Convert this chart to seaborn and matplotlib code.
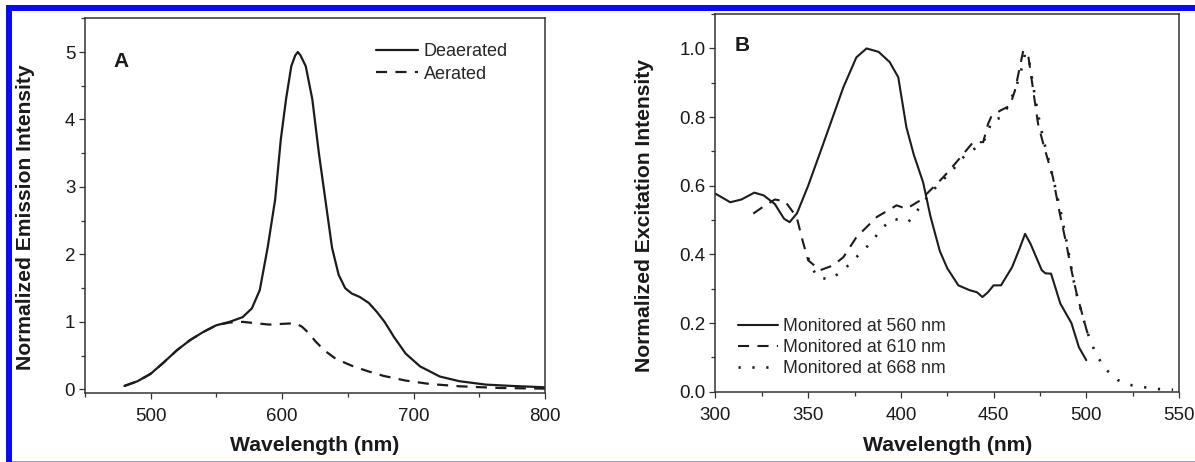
import matplotlib
matplotlib.use("Agg")
import matplotlib.pyplot as plt
from matplotlib.patches import Rectangle
from matplotlib.ticker import MultipleLocator, FormatStrFormatter
import seaborn as sns
import pandas as pd

# ---------------- data: panel A (emission) ----------------
deaerated_nm = [480, 490, 500, 510, 520, 530, 540, 550, 560, 570, 577, 583, 589, 594.7,
                599, 603, 607, 610, 612, 614, 618, 623, 628, 633, 638, 643, 648, 653,
                659, 666, 672, 678, 685, 694, 705, 720, 735, 755, 775, 800]
deaerated_int = [0.05, 0.12, 0.23, 0.40, 0.58, 0.73, 0.85, 0.95, 1.00, 1.07, 1.20, 1.47,
                 2.10, 2.81, 3.70, 4.30, 4.79, 4.95, 5.00, 4.95, 4.79, 4.30, 3.50, 2.80,
                 2.10, 1.70, 1.50, 1.42, 1.37, 1.28, 1.15, 1.00, 0.78, 0.53, 0.34, 0.19,
                 0.12, 0.07, 0.05, 0.03]
aerated_nm = [480, 490, 500, 510, 520, 530, 540, 550, 560, 570, 580, 590, 600, 610, 615,
              620, 625, 632, 641, 653, 665, 677, 694, 712, 735, 765, 800]
aerated_int = [0.05, 0.12, 0.23, 0.40, 0.58, 0.73, 0.85, 0.95, 0.99, 1.00, 0.98, 0.96,
               0.97, 0.98, 0.93, 0.84, 0.72, 0.58, 0.45, 0.35, 0.27, 0.20, 0.13, 0.08,
               0.045, 0.02, 0.01]

# ---------------- data: panel B (excitation) ----------------
mon560_nm = [300, 308, 314, 321, 326, 332, 337, 340, 344, 350, 358, 369, 376, 381.5, 388,
             394, 398.6, 403, 407, 412, 416, 421, 425, 431, 437, 441, 444, 447, 450, 454,
             460, 464, 467, 470, 476, 478, 481, 486, 492, 496, 500]
mon560_int = [0.577, 0.552, 0.560, 0.580, 0.572, 0.547, 0.504, 0.494, 0.520, 0.600, 0.720,
              0.887, 0.974, 1.000, 0.990, 0.960, 0.916, 0.770, 0.690, 0.610, 0.510, 0.410,
              0.360, 0.310, 0.296, 0.290, 0.276, 0.290, 0.310, 0.310, 0.363, 0.417, 0.460,
              0.430, 0.354, 0.345, 0.344, 0.257, 0.200, 0.130, 0.092]
mon610_nm = [320.4, 326, 332, 337.5, 343.8, 347, 350, 356.4, 363.5, 369, 376, 387, 397.7,
             403, 410.3, 415.7, 422.9, 430, 439, 444.4, 447, 449, 454, 458.8, 461.5, 466,
             468.7, 471.4, 474, 476.8, 482, 485, 489.4, 492, 494.8, 500.2, 502]
mon610_int = [0.519, 0.540, 0.560, 0.555, 0.509, 0.440, 0.383, 0.354, 0.368, 0.392, 0.450,
              0.509, 0.543, 0.533, 0.557, 0.586, 0.625, 0.669, 0.727, 0.727, 0.780, 0.804,
              0.820, 0.833, 0.877, 0.993, 0.979, 0.877, 0.780, 0.722, 0.625, 0.538, 0.426,
              0.354, 0.286, 0.179, 0.150]
mon668_nm = [350, 354.6, 361.8, 369, 376, 383.3, 390.5, 395.9, 404, 410.3, 415.7, 421,
             427, 433.7, 442.7, 446, 449, 455, 460, 464, 467, 469, 472, 475, 478, 482, 486,
             490, 494, 498, 502, 505.6, 510, 517, 524.5, 531.7, 538.8, 546.8]
mon668_int = [0.390, 0.334, 0.327, 0.354, 0.392, 0.431, 0.480, 0.504, 0.494, 0.538, 0.577,
              0.608, 0.640, 0.683, 0.720, 0.740, 0.790, 0.800, 0.860, 0.916, 0.985, 0.970,
              0.870, 0.780, 0.710, 0.625, 0.530, 0.420, 0.300, 0.220, 0.150, 0.107, 0.068,
              0.034, 0.019, 0.013, 0.008, 0.006]

df_a1 = pd.DataFrame({"nm": deaerated_nm, "val": deaerated_int})
df_a2 = pd.DataFrame({"nm": aerated_nm, "val": aerated_int})
df_b1 = pd.DataFrame({"nm": mon560_nm, "val": mon560_int})
df_b2 = pd.DataFrame({"nm": mon610_nm, "val": mon610_int})
df_b3 = pd.DataFrame({"nm": mon668_nm, "val": mon668_int})

sns.set_theme(style="ticks")
plt.rcParams["font.family"] = ["Liberation Sans", "DejaVu Sans"]
plt.rcParams["lines.scale_dashes"] = False

LC = "#1c1c1c"
SC = "#333333"
DASH = (0, (8, 6))
DOT = (0, (1.6, 8.4))

fig = plt.figure(figsize=(11.95, 4.62), dpi=100)
axA = fig.add_axes([0.0711, 0.150, 0.3849, 0.8104])
axB = fig.add_axes([0.5987, 0.152, 0.3879, 0.8175])

sns.lineplot(data=df_a1, x="nm", y="val", ax=axA, color=LC, lw=1.6, label="Deaerated",
             sort=False, estimator=None)
sns.lineplot(data=df_a2, x="nm", y="val", ax=axA, color=LC, lw=1.6, linestyle=DASH,
             label="Aerated", sort=False, estimator=None)

sns.lineplot(data=df_b1, x="nm", y="val", ax=axB, color=LC, lw=1.5,
             label="Monitored at 560 nm", sort=False, estimator=None)
sns.lineplot(data=df_b2, x="nm", y="val", ax=axB, color=LC, lw=1.5, linestyle=DASH,
             label="Monitored at 610 nm", sort=False, estimator=None)
sns.lineplot(data=df_b3, x="nm", y="val", ax=axB, color=LC, lw=1.9, linestyle=DOT,
             label="Monitored at 668 nm", sort=False, estimator=None)

# axes limits and ticks
axA.set_xlim(450, 800)
axA.set_ylim(-0.05, 5.5)
axA.xaxis.set_major_locator(MultipleLocator(100))
axA.xaxis.set_minor_locator(MultipleLocator(50))
axA.yaxis.set_major_locator(MultipleLocator(1))
axA.yaxis.set_minor_locator(MultipleLocator(0.5))
axA.yaxis.set_major_formatter(FormatStrFormatter("%d"))

axB.set_xlim(300, 550)
axB.set_ylim(0, 1.1)
axB.xaxis.set_major_locator(MultipleLocator(50))
axB.xaxis.set_minor_locator(MultipleLocator(25))
axB.yaxis.set_major_locator(MultipleLocator(0.2))
axB.yaxis.set_minor_locator(MultipleLocator(0.1))
axB.yaxis.set_major_formatter(FormatStrFormatter("%.1f"))

for ax in (axA, axB):
    for s in ax.spines.values():
        s.set_visible(True)
        s.set_color(SC)
        s.set_linewidth(1.1)
    ax.tick_params(which="major", direction="out", length=4.5, width=0.9, color=SC,
                   labelsize=13.5, labelcolor="#1a1a1a", pad=2.5)
    ax.tick_params(axis="x", which="major", pad=6.5)
    ax.tick_params(which="minor", direction="out", length=3, width=0.9, color=SC)
    ax.tick_params(top=False, right=False, which="both")
    ax.set_xlabel("Wavelength (nm)", fontsize=15.2, fontweight="bold", color="#1a1a1a",
                  va="center")

axA.set_ylabel("Normalized Emission Intensity", fontsize=15.2, fontweight="bold",
               color="#1a1a1a", va="center")
axB.set_ylabel("Normalized Excitation Intensity", fontsize=15.2, fontweight="bold",
               color="#1a1a1a", va="center")
axA.xaxis.set_label_coords(0.5, -0.142)
axB.xaxis.set_label_coords(0.5, -0.142)
axA.yaxis.set_label_coords(-0.13, 0.469)
axB.yaxis.set_label_coords(-0.152, 0.468)

axA.text(0.061, 0.884, "A", transform=axA.transAxes, fontsize=15, fontweight="bold",
         va="center", ha="left", color="#1a1a1a")
axB.text(0.042, 0.918, "B", transform=axB.transAxes, fontsize=15, fontweight="bold",
         va="center", ha="left", color="#1a1a1a")

axA.legend(loc="upper left", bbox_to_anchor=(0.633, 0.933), frameon=False, fontsize=13,
           handlelength=2.33, handletextpad=0.3, labelspacing=0.29, borderpad=0,
           borderaxespad=0)
axB.legend(loc="lower left", bbox_to_anchor=(0.0485, 0.039), frameon=False, fontsize=12.8,
           handlelength=2.25, handletextpad=0.28, labelspacing=0.22, borderpad=0,
           borderaxespad=0)

# blue page frame
fig.add_artist(Rectangle((6 / 1195, 1 - 10.7 / 462), 1 - 6 / 1195, 5.7 / 462,
                         transform=fig.transFigure, color="#0a0af5", lw=0, zorder=10))
fig.add_artist(Rectangle((6 / 1195, 0), 5.5 / 1195, 1 - 5 / 462,
                         transform=fig.transFigure, color="#0a0af5", lw=0, zorder=10))
fig.add_artist(Rectangle((11.5 / 1195, 0), 1, 1.5 / 462,
                         transform=fig.transFigure, color="#9c9cf0", lw=0, zorder=10))

fig.savefig("out.png", dpi=100, facecolor="white")
